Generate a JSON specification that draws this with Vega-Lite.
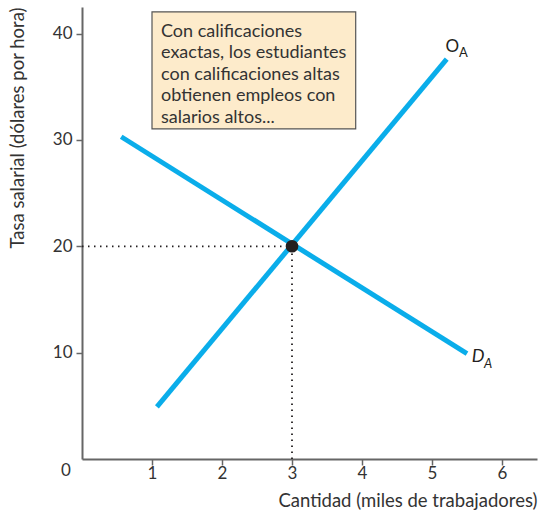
{
  "$schema": "https://vega.github.io/schema/vega-lite/v6.json",
  "width": 455,
  "height": 452,
  "autosize": {"type": "none"},
  "padding": {"left": 82, "top": 7, "right": 3, "bottom": 58},
  "background": "white",
  "config": {
    "view": {"stroke": null},
    "font": "Lato",
    "axis": {
      "grid": false,
      "domainColor": "#666666",
      "domainWidth": 2,
      "tickColor": "#666666",
      "tickWidth": 1.5,
      "tickSize": 6,
      "labelColor": "#333333",
      "labelFont": "Lato",
      "labelFontSize": 17,
      "titleColor": "#333333",
      "titleFont": "Lato",
      "titleFontSize": 18.5,
      "titleFontWeight": "normal"
    }
  },
  "datasets": {
    "curves": [
      {"curve": "O", "x": 1.07, "y": 4.9},
      {"curve": "O", "x": 5.21, "y": 37.6},
      {"curve": "D", "x": 0.56, "y": 30.3},
      {"curve": "D", "x": 5.5, "y": 9.9}
    ],
    "guides": [
      {"x": 0, "y": 20, "x2": 3, "y2": 20},
      {"x": 3, "y": 0, "x2": 3, "y2": 20}
    ],
    "eq": [{"x": 3, "y": 20}],
    "box": [{"x": 1.0, "x2": 3.91, "y": 31.04, "y2": 42.05, "text": "Con calificaciones\nexactas, los estudiantes\ncon calificaciones altas\nobtienen empleos con\nsalarios altos..."}],
    "oLabel": [{"label": "O", "x": 5.29, "y": 38.7}],
    "dLabel": [{"label": "D", "x": 5.66, "y": 9.6}],
    "oSub": [{"label": "A", "x": 5.45, "y": 38.15}],
    "dSub": [{"label": "A", "x": 5.8, "y": 8.95}],
    "origin": [{"x": 0, "y": 0, "label": "0"}]
  },
  "layer": [
    {
      "data": {"name": "box"},
      "mark": {"type": "rect", "fill": "#FDEBCB", "stroke": "#555555", "strokeWidth": 1.2},
      "encoding": {
        "x": {"field": "x", "type": "quantitative", "scale": {"domain": [0, 6.5], "nice": false, "zero": false},
          "axis": {"values": [1, 2, 3, 4, 5, 6], "format": "d", "title": "Cantidad (miles de trabajadores)", "titleAnchor": "end", "labelPadding": 0, "titlePadding": 10,
            "encode": {"ticks": {"update": {"y2": {"value": -6}}}}}},
        "x2": {"field": "x2"},
        "y": {"field": "y", "type": "quantitative", "scale": {"domain": [0, 42.5], "nice": false, "zero": false},
          "axis": {"values": [10, 20, 30, 40], "format": "d", "title": "Tasa salarial (dólares por hora)", "titleAnchor": "end", "labelPadding": 4, "titlePadding": 25,
            "encode": {"ticks": {"update": {"x2": {"value": 6}}}}}},
        "y2": {"field": "y2"}
      }
    },
    {
      "data": {"name": "box"},
      "mark": {"type": "text", "align": "left", "baseline": "top", "lineBreak": "\n", "lineHeight": 21.5, "fontSize": 18, "color": "#333333", "dx": 9, "dy": 11},
      "encoding": {
        "x": {"field": "x", "type": "quantitative"},
        "y": {"field": "y2", "type": "quantitative"},
        "text": {"field": "text"}
      }
    },
    {
      "data": {"name": "guides"},
      "mark": {"type": "rule", "color": "#231f20", "strokeWidth": 1.8, "strokeDash": [1.5, 4.5]},
      "encoding": {
        "x": {"field": "x", "type": "quantitative"},
        "y": {"field": "y", "type": "quantitative"},
        "x2": {"field": "x2"},
        "y2": {"field": "y2"}
      }
    },
    {
      "data": {"name": "curves"},
      "mark": {"type": "line", "color": "#0AADEA", "strokeWidth": 5},
      "encoding": {
        "x": {"field": "x", "type": "quantitative"},
        "y": {"field": "y", "type": "quantitative"},
        "detail": {"field": "curve"}
      }
    },
    {
      "data": {"name": "eq"},
      "mark": {"type": "point", "filled": true, "color": "#231f20", "size": 160, "opacity": 1},
      "encoding": {
        "x": {"field": "x", "type": "quantitative"},
        "y": {"field": "y", "type": "quantitative"}
      }
    },
    {
      "data": {"name": "oLabel"},
      "mark": {"type": "text", "fontSize": 17, "color": "#231f20"},
      "encoding": {
        "x": {"field": "x", "type": "quantitative"},
        "y": {"field": "y", "type": "quantitative"},
        "text": {"field": "label"}
      }
    },
    {
      "data": {"name": "dLabel"},
      "mark": {"type": "text", "fontSize": 18, "fontStyle": "italic", "color": "#231f20"},
      "encoding": {
        "x": {"field": "x", "type": "quantitative"},
        "y": {"field": "y", "type": "quantitative"},
        "text": {"field": "label"}
      }
    },
    {
      "data": {"name": "oSub"},
      "mark": {"type": "text", "fontSize": 13, "color": "#231f20"},
      "encoding": {
        "x": {"field": "x", "type": "quantitative"},
        "y": {"field": "y", "type": "quantitative"},
        "text": {"field": "label"}
      }
    },
    {
      "data": {"name": "dSub"},
      "mark": {"type": "text", "fontSize": 13, "fontStyle": "italic", "color": "#231f20"},
      "encoding": {
        "x": {"field": "x", "type": "quantitative"},
        "y": {"field": "y", "type": "quantitative"},
        "text": {"field": "label"}
      }
    },
    {
      "data": {"name": "origin"},
      "mark": {"type": "text", "fontSize": 17, "color": "#333333", "dx": -16, "dy": 12},
      "encoding": {
        "x": {"field": "x", "type": "quantitative"},
        "y": {"field": "y", "type": "quantitative"},
        "text": {"field": "label"}
      }
    }
  ]
}
